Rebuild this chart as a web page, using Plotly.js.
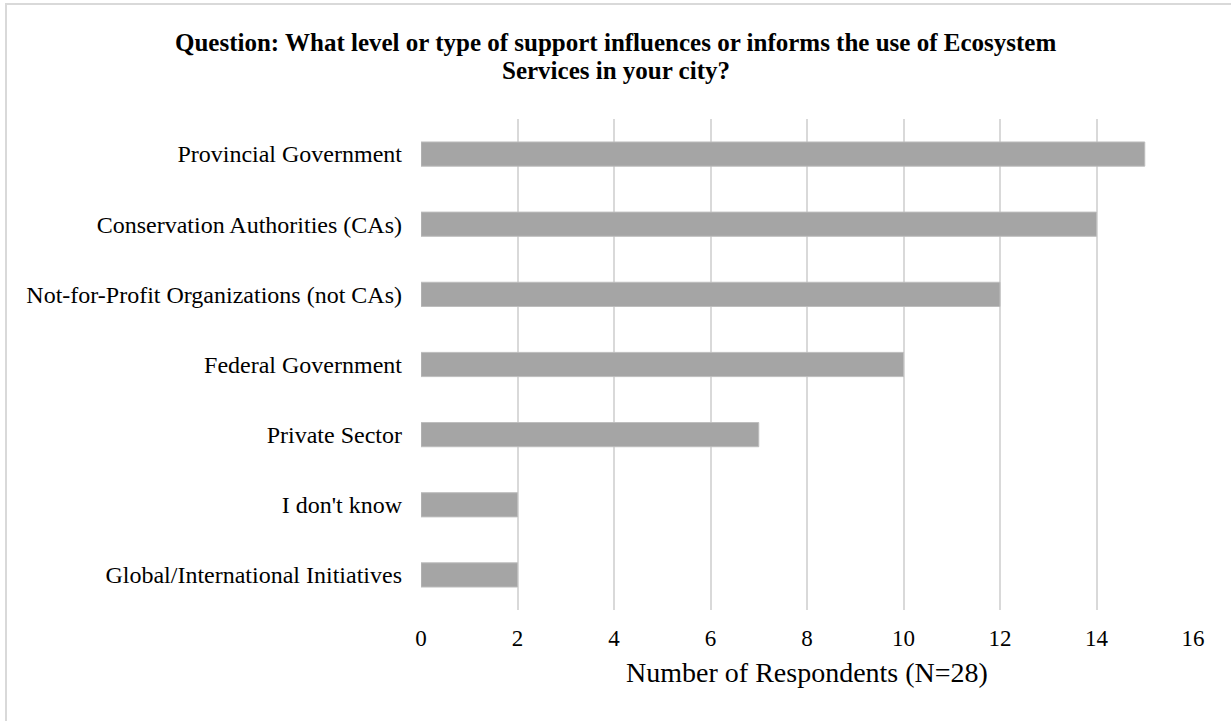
<!DOCTYPE html>
<html>
<head>
<meta charset="utf-8">
<script src="https://cdn.plot.ly/plotly-3.0.1.min.js"></script>
<style>html,body{margin:0;padding:0;background:#fff;}#chart{width:1231px;height:721px;}</style>
</head>
<body>
<div id="chart"></div>
<script>
const categories = [
  "Global/International Initiatives",
  "I don't know",
  "Private Sector",
  "Federal Government",
  "Not-for-Profit Organizations (not CAs)",
  "Conservation Authorities (CAs)",
  "Provincial Government"
];
const respondents = [2, 2, 7, 10, 12, 14, 15];
const xTickValues = [0, 2, 4, 6, 8, 10, 12, 14, 16];
const titleLines = [
  "Question: What level or type of support influences or informs the use of Ecosystem",
  "Services in your city?"
];
const xTitleText = "Number of Respondents (N=28)";

const W = 1231, H = 721, L = 421, R = 38, T = 119, B = 111;
const pw = W - L - R, ph = H - T - B;
function px(x){ return (x - L) / pw; }
function py(y){ return (H - B - y) / ph; }

const trace = {
  type: 'bar',
  orientation: 'h',
  y: categories,
  x: respondents,
  marker: { color: '#a5a5a5', line: { color: '#bdbdbd', width: 1 } },
  hoverinfo: 'x+y'
};

const serif = '"Liberation Serif", "Times New Roman", serif';
const titleY = [42, 70];
const annotations = titleLines.map((t, i) => ({
  text: '<b>' + t + '</b>',
  xref: 'paper', yref: 'paper',
  x: px(W / 2), y: py(titleY[i]),
  xanchor: 'center', yanchor: 'middle',
  showarrow: false,
  font: { family: serif, size: 25, color: '#000' }
}));

const layout = {
  width: W, height: H,
  margin: { l: L, r: R, t: T, b: B, pad: 0 },
  paper_bgcolor: '#ffffff',
  plot_bgcolor: '#ffffff',
  font: { family: serif, size: 24, color: '#000' },
  bargap: 0.655,
  showlegend: false,
  xaxis: {
    range: [0, 16],
    tickvals: xTickValues,
    ticktext: xTickValues.map(String),
    showgrid: true,
    gridcolor: '#d9d9d9',
    gridwidth: 2,
    zeroline: false,
    showline: false,
    ticks: '',
    ticklabelstandoff: 12,
    tickfont: { size: 23 },
    title: { text: xTitleText, font: { size: 28 }, standoff: 12 },
    fixedrange: true
  },
  yaxis: {
    type: 'category',
    showgrid: false,
    zeroline: false,
    showline: false,
    ticks: '',
    ticklabelstandoff: 18,
    tickfont: { size: 24 },
    fixedrange: true
  },
  annotations: annotations,
  shapes: [{
    type: 'rect', xref: 'paper', yref: 'paper',
    x0: px(6), x1: px(1240), y0: py(730), y1: py(4),
    line: { color: '#d9d9d9', width: 2 }, fillcolor: 'rgba(0,0,0,0)', layer: 'below'
  }]
};

Plotly.newPlot('chart', [trace], layout, { displayModeBar: false, staticPlot: true });
</script>
</body>
</html>
